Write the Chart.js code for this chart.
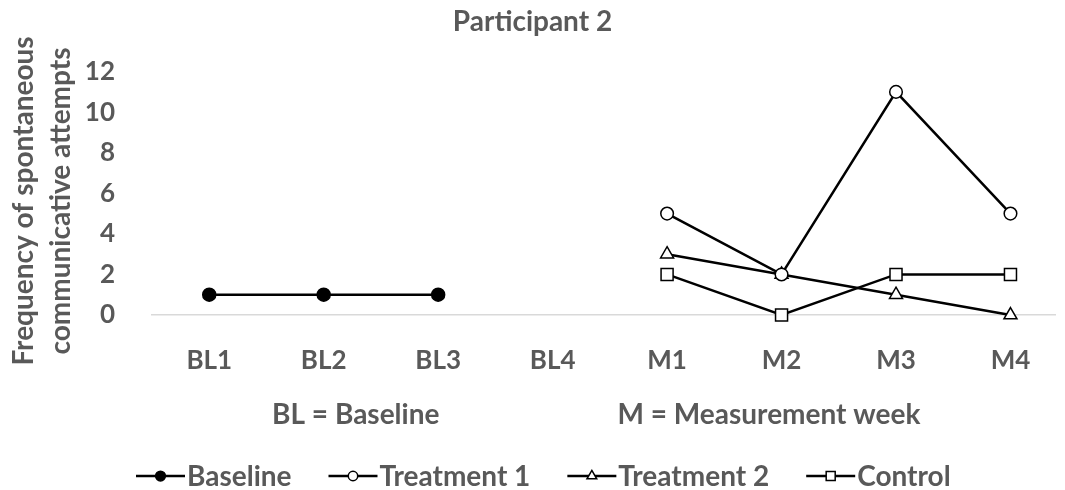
<!DOCTYPE html>
<html>
<head>
<meta charset="utf-8">
<script src="https://cdn.jsdelivr.net/npm/chart.js@4.4.0/dist/chart.umd.min.js"></script>
<style>
  html, body { margin: 0; padding: 0; background: #fff; }
</style>
</head>
<body>
<canvas id="myChart" width="1065" height="490"></canvas>
<script>
// data
const categories = ['BL1', 'BL2', 'BL3', 'BL4', 'M1', 'M2', 'M3', 'M4'];
const baseline   = [1, 1, 1, null, null, null, null, null];
const treatment1 = [null, null, null, null, 5, 2, 11, 5];
const treatment2 = [null, null, null, null, 3, 2, 1, 0];
const control    = [null, null, null, null, 2, 0, 2, 2];
const yMin = 0, yMax = 12, yStep = 2;
const chartTitle = 'Participant 2';
const yTitle = ['Frequency of spontaneous', 'communicative attempts'];
const notes = ['BL = Baseline', 'M = Measurement week'];

const grey = '#595959';
const fam = 'Lato, "Open Sans", sans-serif';
const ctx = document.getElementById('myChart');

function pts(vals) {
  return categories.map((c, i) => ({x: i, y: vals[i]}));
}

function marker(c, style, x, y, r, fill) {
  c.beginPath();
  if (style === 'circle') {
    c.arc(x, y, r, 0, Math.PI * 2);
  } else if (style === 'triangle') {
    c.moveTo(x, y - r);
    c.lineTo(x + r * Math.sin(Math.PI * 2 / 3), y - r * Math.cos(Math.PI * 2 / 3));
    c.lineTo(x + r * Math.sin(Math.PI * 4 / 3), y - r * Math.cos(Math.PI * 4 / 3));
  } else {
    const s = r * Math.SQRT1_2;
    c.rect(x - s, y - s, 2 * s, 2 * s);
  }
  c.closePath();
  c.fillStyle = fill;
  c.fill();
  c.stroke();
}

// y title, the two notes under the axis and the legend
const extras = {
  id: 'extras',
  afterDraw(chart) {
    const c = chart.ctx;
    const xs = chart.scales.x;
    c.save();
    c.fillStyle = grey;
    c.font = 'bold 28px ' + fam;
    c.textAlign = 'center';
    c.textBaseline = 'alphabetic';
    [33, 70].forEach((bx, i) => {
      c.save();
      c.translate(bx, 201);
      c.rotate(-Math.PI / 2);
      c.fillText(yTitle[i], 0, 0);
      c.restore();
    });
    c.fillText(notes[0], xs.getPixelForValue(1.28), 424);
    c.fillText(notes[1], xs.getPixelForValue(4.89), 424);

    // legend
    let lx = 136;
    const ly = 476;
    c.textAlign = 'left';
    chart.data.datasets.forEach(ds => {
      c.strokeStyle = '#000';
      c.lineWidth = 2.5;
      c.beginPath();
      c.moveTo(lx, ly);
      c.lineTo(lx + 49, ly);
      c.stroke();
      c.lineWidth = 1.5;
      marker(c, ds.pointStyle, lx + 24.5, ly, ds.pointRadius * 0.75, ds.pointBackgroundColor);
      c.fillStyle = grey;
      c.fillText(ds.label, lx + 51, 486);
      lx += 51 + c.measureText(ds.label).width + 37;
    });
    c.restore();
  }
};

function line(label, vals, style, radius, fill) {
  return {
    label: label,
    data: pts(vals),
    borderColor: '#000',
    borderWidth: 2.5,
    pointStyle: style,
    pointRadius: radius,
    pointBorderWidth: 1.5,
    pointBorderColor: '#000',
    pointBackgroundColor: fill,
    clip: false
  };
}

function build() {
  new Chart(ctx, {
    type: 'line',
    data: {
      datasets: [
        line('Baseline', baseline, 'circle', 6.5, '#000'),
        line('Treatment 1', treatment1, 'circle', 6.3, '#fff'),
        line('Treatment 2', treatment2, 'triangle', 7.5, '#fff'),
        line('Control', control, 'rect', 8.5, '#fff')
      ]
    },
    options: {
      responsive: false,
      animation: false,
      devicePixelRatio: 1,
      layout: { padding: 0 },
      plugins: {
        legend: { display: false },
        tooltip: { enabled: false },
        title: {
          display: true,
          text: chartTitle,
          color: grey,
          font: { family: fam, size: 28, weight: 'bold' },
          padding: { top: 5, bottom: 33 }
        }
      },
      scales: {
        x: {
          type: 'linear',
          min: -0.5,
          max: 7.389,
          grid: { display: false },
          border: { display: true, color: '#d9d9d9', width: 1.5 },
          ticks: {
            stepSize: 1,
            includeBounds: false,
            autoSkip: false,
            maxRotation: 0,
            padding: 22,
            color: grey,
            font: { family: fam, size: 26, weight: 'bold' },
            callback: v => Number.isInteger(v) ? categories[v] : ''
          },
          afterFit: s => { s.height = 175; }
        },
        y: {
          min: yMin,
          max: yMax,
          grid: { display: false },
          border: { display: false },
          ticks: {
            stepSize: yStep,
            padding: 29,
            color: grey,
            font: { family: fam, size: 26, weight: 'bold' }
          },
          afterFit: s => { s.width = 152; }
        }
      }
    },
    plugins: [extras]
  });
}

if (document.fonts && document.fonts.load) {
  document.fonts.load('bold 26px Lato').then(build, build);
} else {
  build();
}
</script>
</body>
</html>
